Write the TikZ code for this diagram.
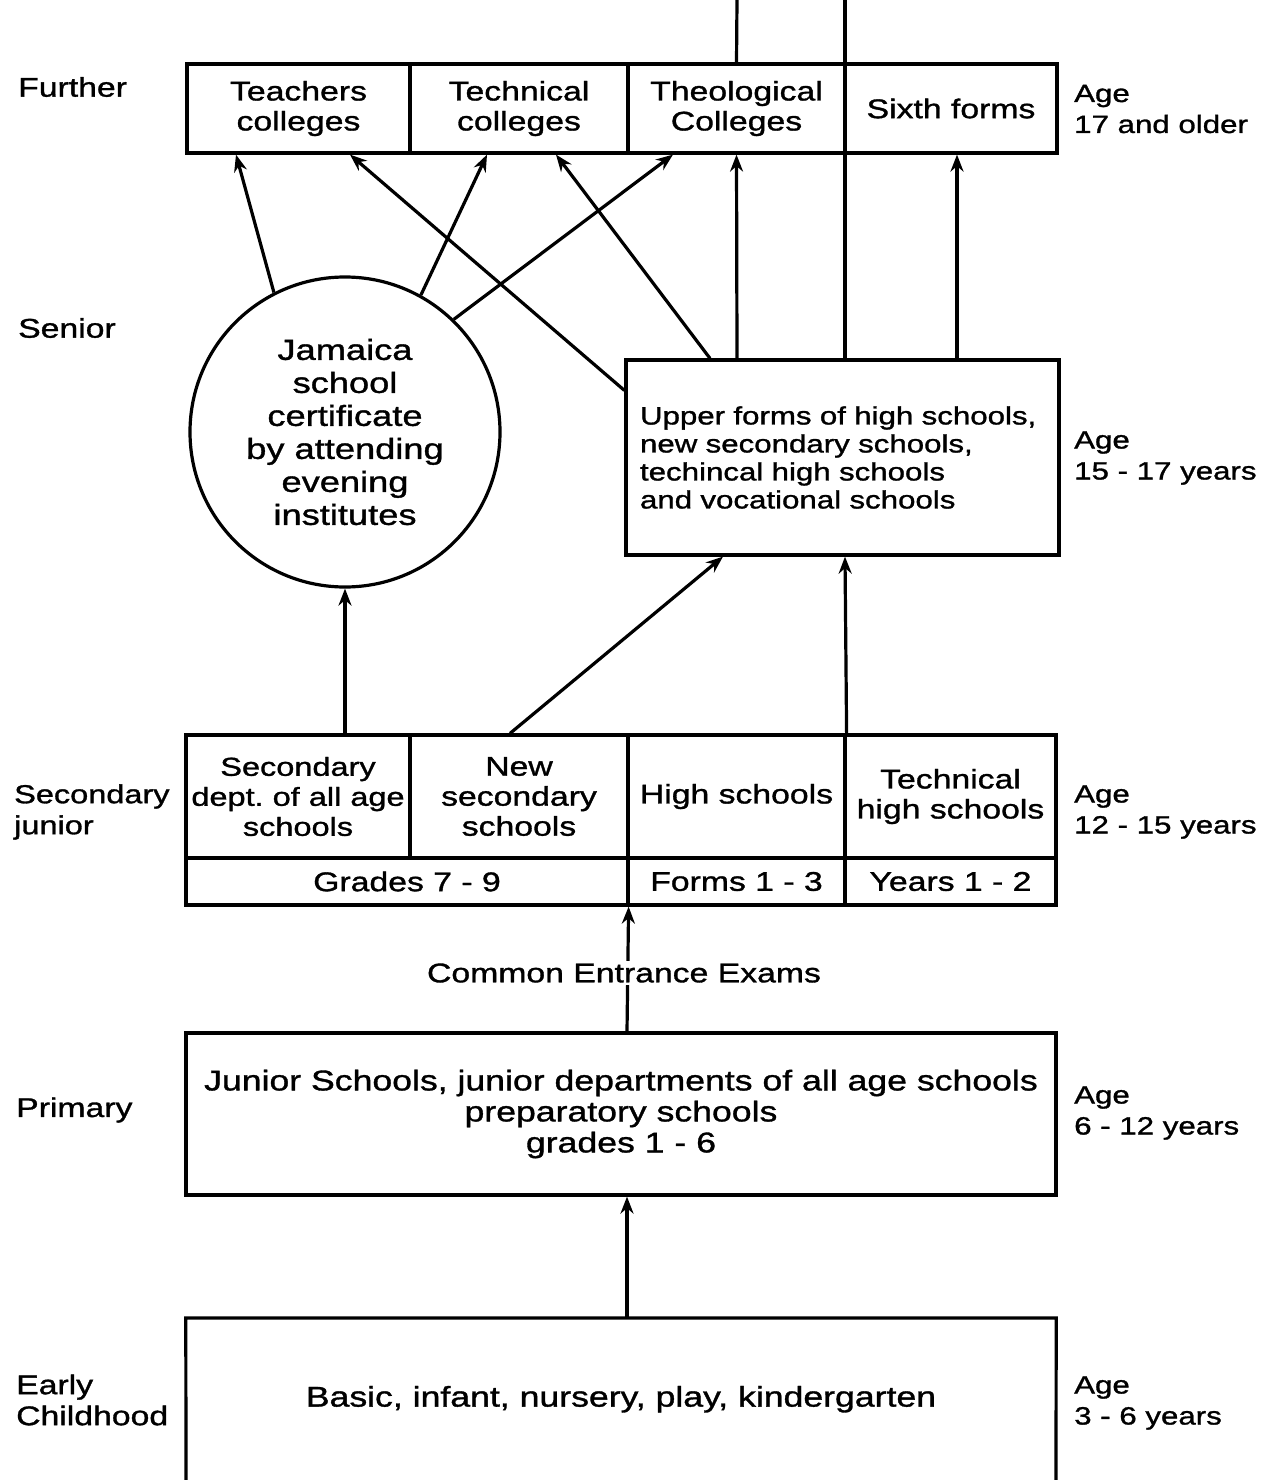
\documentclass[tikz,border=0pt]{standalone}
\usepackage{fontspec}
\setmainfont{Liberation Sans}[FakeStretch=1.25,FakeBold=1.2]
\usetikzlibrary{arrows.meta,positioning}
\tikzset{
  every picture/.style={x=1pt,y=-1pt},
  cell/.style={draw,line width=3.2pt,inner sep=0pt,align=center,font=\fontsize{27}{30}\selectfont},
  lbl/.style={anchor=west,align=left,inner sep=0pt,font=\fontsize{27}{31}\selectfont},
  rlbl/.style={anchor=west,align=left,inner sep=0pt,font=\fontsize{25}{31}\selectfont},
  arr/.style={line width=3.2pt,-{Stealth[length=17pt,width=13pt]}},
  plain/.style={line width=3.2pt}
}
\begin{document}
\begin{tikzpicture}
\useasboundingbox (0,0) rectangle (1262,1480);
% Further row
\node[cell,minimum width=223,minimum height=89] (tc) at (298.5,108.5) {Teachers\\colleges};
\node[cell,minimum width=218,minimum height=89] (tk) at (519,108.5) {Technical\\colleges};
\node[cell,minimum width=217,minimum height=89] (th) at (736.5,108.5) {Theological\\Colleges};
\node[cell,minimum width=212,minimum height=89] (sf) at (951,108.5) {Sixth forms};
% Senior
\node[cell,circle,minimum size=310,font=\fontsize{29}{33}\selectfont] (circ) at (345,432) {Jamaica\\school\\certificate\\by attending\\evening\\institutes};
\node[cell,minimum width=431,minimum height=195,align=left,text width=405,inner xsep=14pt,font=\fontsize{25}{28}\selectfont] (up) at (842.5,457.5) {Upper forms of high schools,\\new secondary schools,\\techincal high schools\\and vocational schools};
% Secondary junior
\node[cell,minimum width=224,minimum height=123,font=\fontsize{26}{30}\selectfont] (sj1) at (298,796.5) {Secondary\\dept.\ of all age\\schools};
\node[cell,minimum width=218,minimum height=123] (sj2) at (519,796.5) {New\\secondary\\schools};
\node[cell,minimum width=217,minimum height=123] (sj3) at (736.5,796.5) {High schools};
\node[cell,minimum width=211,minimum height=123] (sj4) at (950.5,796.5) {Technical\\high schools};
\node[cell,minimum width=442,minimum height=47] (g1) at (407,881.5) {Grades 7 - 9};
\node[cell,minimum width=217,minimum height=47] (g2) at (736.5,881.5) {Forms 1 - 3};
\node[cell,minimum width=211,minimum height=47] (g3) at (950.5,881.5) {Years 1 - 2};
% Primary
\node[cell,minimum width=870,minimum height=162,font=\fontsize{28.5}{31}\selectfont] (prim) at (621,1114) {Junior Schools, junior departments of all age schools\\preparatory schools\\grades 1 - 6};
% Early childhood (box open at the bottom)
\node[inner sep=0pt,minimum width=870,minimum height=162,anchor=north,font=\fontsize{28.5}{31}\selectfont] (early) at (621,1318) {Basic, infant, nursery, play, kindergarten};
\draw[plain] (186,1480) -- (early.north west) -- (early.north east) -- (1056,1480);
% top coordinates
\coordinate (top1) at (737,0);
\coordinate (top2) at (845,0);
% vertical lines from the top
\draw[plain] (top1) -- (th.north);
\draw[plain] ([xshift=2.5]up.north) -- (top2);
% arrows from circle
\draw[arr] (circ.117.6) -- ([xshift=-62.5]tc.south);
\draw[arr] (circ.61.7) -- ([xshift=-32]tk.south);
\draw[arr] (circ.46.8) -- ([xshift=-63.5]th.south);
% arrows from upper forms
\draw[arr] ([yshift=-32]up.north west) -- ([xshift=51.5]tc.south);
\draw[arr] ([xshift=-132.5]up.north) -- ([xshift=37]tk.south);
\draw[arr] ([xshift=-105.5]up.north) -- (th.south);
\draw[arr] ([xshift=114.5]up.north) -- ([xshift=6]sf.south);
% arrows from secondary junior
\draw[arr] (sj1.north -| circ.south) -- (circ.south);
\draw[arr] ([xshift=-9]sj2.north) -- ([xshift=-119.5]up.south);
\draw[arr] (sj3.north east) -- ([xshift=2.5]up.south);
% common entrance
\draw[arr] ([xshift=6]prim.north) -- ([xshift=-1]g1.south east);
\node[fill=white,inner sep=2pt,font=\fontsize{27}{30}\selectfont] (cee) at (624,973) {Common Entrance Exams};
% early to primary
\draw[arr] ([xshift=6]early.north) -- ([xshift=6]prim.south);
% left labels
\node[lbl] (lf) at (18,87) {Further};
\node[lbl] (ls) at (18,328) {Senior};
\node[lbl,font=\fontsize{26}{31}\selectfont] (lsj) at (14,812) {Secondary\\junior};
\node[lbl] (lp) at (16,1110) {Primary};
\node[lbl] (le) at (16,1400) {Early\\Childhood};
% right labels
\node[rlbl] (r1) at (1074,109) {Age\\17 and older};
\node[rlbl] (r2) at (1074,458) {Age\\15 - 17 years};
\node[rlbl] (r3) at (1074,812) {Age\\12 - 15 years};
\node[rlbl] (r4) at (1074,1113) {Age\\6 - 12 years};
\node[rlbl] (r5) at (1074,1403) {Age\\3 - 6 years};
\end{tikzpicture}
\end{document}
